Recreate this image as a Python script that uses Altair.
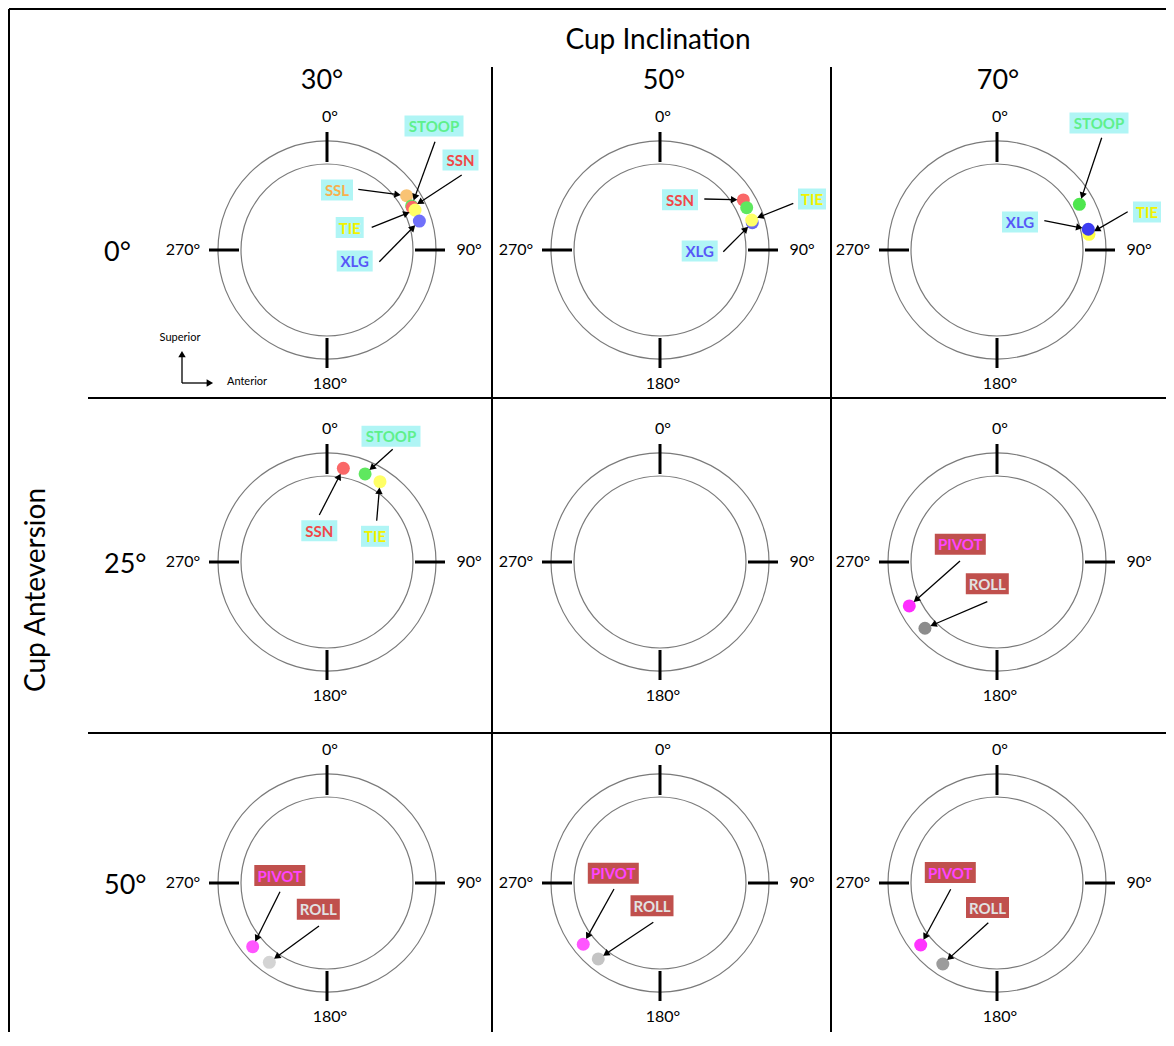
import math
import altair as alt
import pandas as pd

# ---------------- data ----------------
inclinations = ["30°", "50°", "70°"]
anteversions = ["0°", "25°", "50°"]
rim_labels = ["0°", "90°", "180°", "270°"]
rim_angles = [0, 90, 180, 270]

# impingement locations: clock angle (deg, clockwise from superior) and radial
# position as a fraction of the outer rim radius; listed in drawing order
pt_incl = ["30°"] * 5 + ["50°"] * 4 + ["70°"] * 3 + ["30°"] * 3 + ["70°"] * 2 + ["30°"] * 2 + ["50°"] * 2 + ["70°"] * 2
pt_ante = ["0°"] * 12 + ["25°"] * 5 + ["50°"] * 6
pt_act = ["SSL", "STOOP", "SSN", "TIE", "XLG",
          "SSN", "STOOP", "XLG", "TIE",
          "STOOP", "TIE", "XLG",
          "SSN", "STOOP", "TIE",
          "PIVOT", "ROLL",
          "PIVOT", "ROLL",
          "PIVOT", "ROLL",
          "PIVOT", "ROLL"]
pt_angle = [55.7, 62.5, 63.4, 65.6, 72.6,
            59.0, 64.0, 73.5, 71.9,
            61.0, 80.3, 77.2,
            9.9, 23.4, 33.4,
            243.4, 227.4,
            229.4, 216.0,
            231.4, 219.1,
            230.9, 213.8]
pt_radius = [0.884, 0.875, 0.875, 0.887, 0.888,
             0.892, 0.885, 0.883, 0.885,
             0.864, 0.856, 0.859,
             0.872, 0.880, 0.883,
             0.900, 0.898,
             0.898, 0.900,
             0.901, 0.898,
             0.902, 0.894]
pt_color = ["#f9c374", "#5fe85f", "#fa6868", "#ffff66", "#7070fa",
            "#fa6868", "#5fe85f", "#6a6af0", "#ffff66",
            "#4ee64e", "#ffff44", "#3c3cf2",
            "#fa6868", "#5fe85f", "#ffff66",
            "#ff2cff", "#8c8c8c",
            "#ff55ff", "#d4d4d4",
            "#ff55ff", "#c4c4c4",
            "#ff33ff", "#9c9c9c"]

# annotation labels (which dot each callout points to)
ann_incl = ["30°"] * 5 + ["50°"] * 3 + ["70°"] * 3 + ["30°"] * 3 + ["70°"] * 2 + ["30°"] * 2 + ["50°"] * 2 + ["70°"] * 2
ann_ante = ["0°"] * 11 + ["25°"] * 5 + ["50°"] * 6
ann_act = ["STOOP", "SSN", "SSL", "TIE", "XLG",
           "SSN", "TIE", "XLG",
           "STOOP", "XLG", "TIE",
           "STOOP", "SSN", "TIE",
           "PIVOT", "ROLL", "PIVOT", "ROLL", "PIVOT", "ROLL", "PIVOT", "ROLL"]

# ---------------- layout / style ----------------
X0, Y0, W, H = 8, 8, 1158, 1024
COL_X = dict(zip(inclinations, [327, 660, 997]))
ROW_Y = dict(zip(anteversions, [250, 562, 883]))
HEAD_X = [322, 664, 998]
R_OUT, R_IN = 109, 86
DOT = 13
GAP = 7
HEAD = 55
FONT = "Lato"

# callout placements relative to panel centre (label centre, arrow tail)
ann_lx = [107, 133.5, 10, 22.7, 27.7, 20, 152, 39.7, 102, 23, 150, 64, -7.7, 48,
          -36.7, -9.7, -47.2, -8.7, -46.7, -8, -46.7, -9.5]
ann_ly = [-124, -90, -60, -22.5, 11, -50.3, -51, 1, -127, -28, -38, -125.7, -31.2, -25.7,
          -17.7, 21.8, -7.5, 26.2, -9.8, 22.7, -10.5, 24.5]
ann_tx = [108, 134.7, 31.3, 44.7, 52.3, 44.3, 133.3, 63.3, 104.7, 47.3, 130.7, 65.7, -7.7, 49.7,
          -37, -9.7, -47, -8, -46, -6.7, -46.3, -8.7]
ann_ty = [-108.3, -75, -60.7, -22.7, 11.7, -51, -46.7, 1.7, -112.3, -29.3, -38.3, -112.7, -47, -41.3,
          -1, 39.7, 8.7, 43, 6, 39.3, 6.3, 39.7]

TEXT_COL = {"STOOP": "#5ef08c", "SSN": "#f04848", "SSL": "#f8b04c", "TIE": "#f2f200",
            "XLG": "#5858f8", "PIVOT": "#ff44ff", "ROLL": "#e2e2e2"}
BOX_COL = {"PIVOT": "#c0504d", "ROLL": "#c0504d"}
BOX_W = {"STOOP": 59, "SSN": 36, "SSL": 32, "TIE": 28, "XLG": 36, "PIVOT": 51, "ROLL": 43}
BOX_H = 21

XS = alt.Scale(domain=[X0, X0 + W], nice=False, zero=False)
YS = alt.Scale(domain=[Y0 + H, Y0], nice=False, zero=False)


def xy(**kw):
    e = dict(x=alt.X("x:Q", scale=XS, axis=None), y=alt.Y("y:Q", scale=YS, axis=None))
    e.update(kw)
    return e


def xy2(**kw):
    return xy(x2=alt.X2("x2:Q"), y2=alt.Y2("y2:Q"), **kw)


def polar(inc, ant, ang, r):
    t = math.radians(ang)
    return COL_X[inc] + r * math.sin(t), ROW_Y[ant] - r * math.cos(t)


# rings
rings = pd.DataFrame([dict(x=COL_X[i], y=ROW_Y[a], s=(2 * r) ** 2)
                      for i in inclinations for a in anteversions for r in (R_OUT, R_IN)])

# rim ticks and labels
ticks, rlabels = [], []
lab_dist = {0: 133, 90: 142, 180: 134, 270: 144}
lab_shift = {0: 3, 90: 0, 180: 3, 270: 0}
for i in inclinations:
    for a in anteversions:
        for ang, lab in zip(rim_angles, rim_labels):
            x1, y1 = polar(i, a, ang, 88)
            x2, y2 = polar(i, a, ang, 118)
            ticks.append(dict(x=x1, y=y1, x2=x2, y2=y2))
            lx, ly = polar(i, a, ang, lab_dist[ang])
            rlabels.append(dict(x=lx + lab_shift[ang], y=ly, t=lab))
ticks = pd.DataFrame(ticks)
rlabels = pd.DataFrame(rlabels)

# dots
dots = []
for i, a, act, ang, r, c in zip(pt_incl, pt_ante, pt_act, pt_angle, pt_radius, pt_color):
    x, y = polar(i, a, ang, r * R_OUT)
    dots.append(dict(i=i, a=a, act=act, x=x, y=y, c=c))
dots = pd.DataFrame(dots)

# callouts
h = 0.866 * math.sqrt(HEAD) / 2
shafts, heads, boxes, texts = [], [], [], []


def add_arrow(tx, ty, ex, ey):
    L = math.hypot(ex - tx, ey - ty)
    ux, uy = (ex - tx) / L, (ey - ty) / L
    hx, hy = ex - ux * h, ey - uy * h
    shafts.append(dict(x=tx, y=ty, x2=hx, y2=hy))
    heads.append(dict(x=hx, y=hy, ang=math.degrees(math.atan2(ux, -uy)) % 360))


for i, a, act, lx, ly, tx, ty in zip(ann_incl, ann_ante, ann_act, ann_lx, ann_ly, ann_tx, ann_ty):
    cx, cy = COL_X[i], ROW_Y[a]
    d = dots[(dots.i == i) & (dots.a == a) & (dots.act == act)].iloc[0]
    tX, tY = cx + tx, cy + ty
    L = math.hypot(d.x - tX, d.y - tY)
    ex, ey = d.x - (d.x - tX) / L * GAP, d.y - (d.y - tY) / L * GAP
    add_arrow(tX, tY, ex, ey)
    bw = BOX_W[act]
    boxes.append(dict(x=cx + lx - bw / 2, x2=cx + lx + bw / 2, y=cy + ly - BOX_H / 2,
                      y2=cy + ly + BOX_H / 2, c=BOX_COL.get(act, "#b0f5f5")))
    texts.append(dict(x=cx + lx, y=cy + ly + 1, t=act, c=TEXT_COL[act]))

# orientation key in first panel
kx, ky = COL_X["30°"], ROW_Y["0°"]
add_arrow(kx - 145, ky + 133, kx - 145, ky + 102)
add_arrow(kx - 145, ky + 133, kx - 115, ky + 133)
key_text = pd.DataFrame([dict(x=kx - 147, y=ky + 88, t="Superior"),
                         dict(x=kx - 80, y=ky + 132, t="Anterior")])

shafts = pd.DataFrame(shafts)
heads = pd.DataFrame(heads)
boxes = pd.DataFrame(boxes)
texts = pd.DataFrame(texts)

# frame and panel separators
frame = pd.DataFrame([
    dict(x=9, y=9, x2=9, y2=Y0 + H), dict(x=9, y=9, x2=X0 + W, y2=9),
    dict(x=492, y=67, x2=492, y2=Y0 + H), dict(x=831, y=67, x2=831, y2=Y0 + H),
    dict(x=88, y=398, x2=X0 + W, y2=398), dict(x=88, y=733, x2=X0 + W, y2=733),
])

titles = pd.DataFrame([dict(x=658, y=41, t="Cup Inclination", s=28)] +
                      [dict(x=hx, y=81, t=inc, s=27) for hx, inc in zip(HEAD_X, inclinations)])
row_titles = pd.DataFrame([dict(x=104, y=ROW_Y[a] + 3, t=a) for a in anteversions])
side_title = pd.DataFrame([dict(x=37, y=590, t="Cup Anteversion")])

layers = [
    alt.Chart(frame).mark_rule(color="black", strokeWidth=2).encode(**xy2()),
    alt.Chart(rings).mark_point(shape="circle", filled=False, color="#7a7a7a", strokeWidth=1.2,
                                opacity=1).encode(**xy(size=alt.Size("s:Q", scale=None))),
    alt.Chart(ticks).mark_rule(color="black", strokeWidth=3).encode(**xy2()),
    alt.Chart(rlabels).mark_text(font=FONT, fontSize=16, color="black", baseline="middle",
                                 align="center").encode(**xy(text="t:N")),
    alt.Chart(dots).mark_circle(size=DOT * DOT, opacity=1).encode(
        **xy(color=alt.Color("c:N", scale=None))),
    alt.Chart(shafts).mark_rule(color="black", strokeWidth=1.3).encode(**xy2()),
    alt.Chart(heads).mark_point(shape="triangle", filled=True, color="black", size=HEAD,
                                opacity=1).encode(**xy(angle=alt.Angle("ang:Q", scale=None))),
    alt.Chart(boxes).mark_rect().encode(**xy2(color=alt.Color("c:N", scale=None))),
    alt.Chart(texts).mark_text(font=FONT, fontSize=15, fontWeight="bold", baseline="middle",
                               align="center").encode(**xy(text="t:N", color=alt.Color("c:N", scale=None))),
    alt.Chart(key_text).mark_text(font=FONT, fontSize=11, color="black", baseline="middle",
                                  align="center").encode(**xy(text="t:N")),
    alt.Chart(titles).mark_text(font=FONT, color="black", baseline="middle", align="center").encode(
        **xy(text="t:N", size=alt.Size("s:Q", scale=None))),
    alt.Chart(row_titles).mark_text(font=FONT, fontSize=27, color="black", baseline="middle",
                                    align="left").encode(**xy(text="t:N")),
    alt.Chart(side_title).mark_text(font=FONT, fontSize=28, color="black", baseline="middle",
                                    align="center", angle=270).encode(**xy(text="t:N")),
]

chart = alt.layer(*layers).properties(
    width=W, height=H, padding=0, autosize="none", background="white"
).configure_view(strokeWidth=0)

chart.save("out.html", embed_options={"renderer": "svg", "actions": False})
